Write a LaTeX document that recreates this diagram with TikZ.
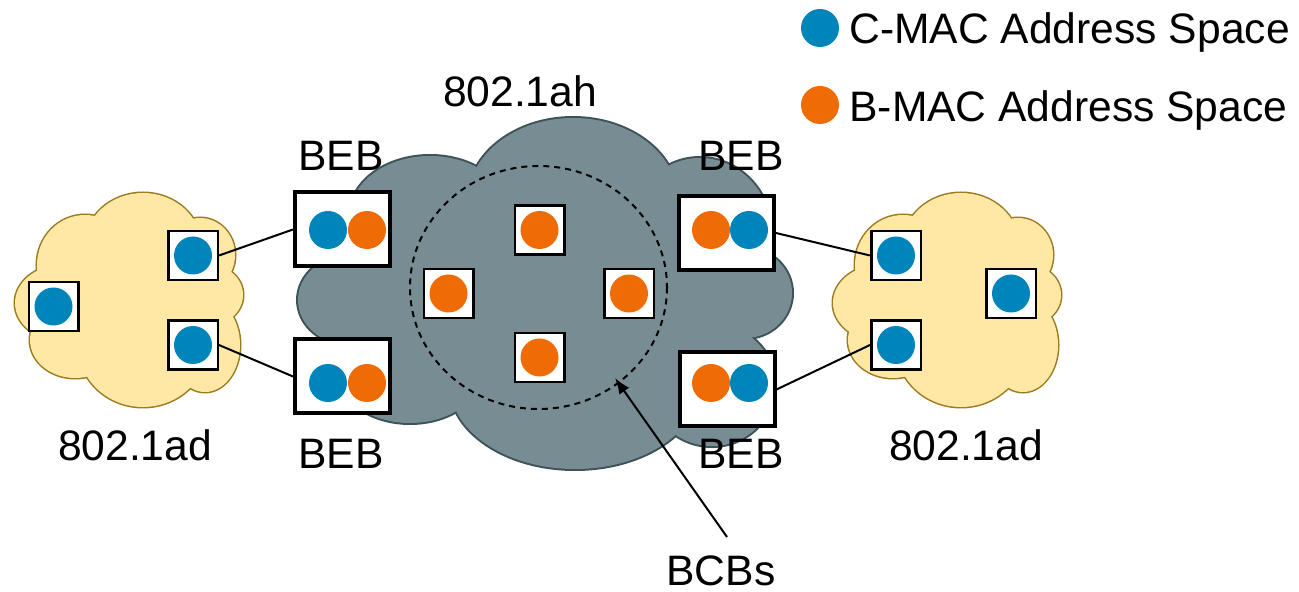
\documentclass[tikz,border=0pt]{standalone}
\usepackage{fontspec}
\setmainfont{Liberation Sans}
\usetikzlibrary{arrows.meta}
\definecolor{cblue}{HTML}{0085BA}
\definecolor{corange}{HTML}{EF6B05}
\definecolor{grayfill}{HTML}{778D93}
\definecolor{grayedge}{HTML}{3E5358}
\definecolor{yelfill}{HTML}{FFE8A6}
\definecolor{yeledge}{HTML}{9C7A1E}
\newcommand\dotat[3]{\fill[#1] (#2,#3) circle [radius=19];}
\begin{document}
\begin{tikzpicture}[x=0.5pt,y=-0.5pt,
  bebbox/.style={draw=black,line width=2pt,fill=white,minimum width=47.5pt,minimum height=37pt,inner sep=0pt},
  smallbox/.style={draw=black,line width=1.25pt,fill=white,minimum width=24.75pt,minimum height=24.5pt,inner sep=0pt},
  lbl/.style={font=\fontsize{21.3}{25}\selectfont,inner sep=0pt,anchor=base},
  link/.style={draw=black,line width=1pt},
  ring/.style={draw=black,line width=1pt,dash pattern=on 3pt off 2.5pt},
  pointer/.style={draw=black,line width=1pt,-{Latex[length=8pt,width=6pt]}}]
\useasboundingbox (0,0) rectangle (1299,592);

% yellow clouds (left and shifted copy on the right)
\foreach \sh in {0,818}{
  \begin{scope}[shift={(\sh,0)}]
    \foreach \a/\b/\c/\d in {143/245/58/52,85/265/48/50,62/303/47/38,75/340/45/38,143/345/65/62,205/345/35/47,210/295/33/30,200/255/35/37,135/300/85/65}
      \draw[yeledge,line width=1.5pt] (\a,\b) ellipse [x radius=\c, y radius=\d];
    \foreach \a/\b/\c/\d in {143/245/58/52,85/265/48/50,62/303/47/38,75/340/45/38,143/345/65/62,205/345/35/47,210/295/33/30,200/255/35/37,135/300/85/65}
      \fill[yelfill] (\a,\b) ellipse [x radius=\c, y radius=\d];
  \end{scope}
}

% gray cloud
\foreach \a/\b/\c/\d in {573/200/105/82,430/215/80/59,700/235/72/77,745/293/47/45,712/385/63/61,575/385/125/84,410/372/72/51,350/300/52/45,545/295/190/115}
  \draw[grayedge,line width=2pt] (\a,\b) ellipse [x radius=\c, y radius=\d];
\foreach \a/\b/\c/\d in {573/200/105/82,430/215/80/59,700/235/72/77,745/293/47/45,712/385/63/61,575/385/125/84,410/372/72/51,350/300/52/45,545/295/190/115}
  \fill[grayfill] (\a,\b) ellipse [x radius=\c, y radius=\d];

% dashed BCB ring
\draw[ring] (538.5,287.5) ellipse [x radius=128.5, y radius=121.5];

% small boxes in left cloud
\node[smallbox] (ca1) at (193,255.5) {};
\node[smallbox] (ca2) at (193,345) {};
\node[smallbox] (ca3) at (53.5,306.5) {};
% small boxes in right cloud
\node[smallbox] (cb1) at (896,255.5) {};
\node[smallbox] (cb2) at (896,345) {};
\node[smallbox] (cb3) at (1011,293.5) {};
% BCB boxes
\node[smallbox] (bcb1) at (539.5,230) {};
\node[smallbox] (bcb2) at (448.5,293.5) {};
\node[smallbox] (bcb3) at (629,293.5) {};
\node[smallbox] (bcb4) at (539.5,357.5) {};

% BEB boxes
\node[bebbox] (bebUL) at (342.5,229.5) {};
\node[bebbox] (bebLL) at (342.5,376.5) {};
\node[bebbox] (bebUR) at (726.5,233) {};
\node[bebbox] (bebLR) at (727,389.5) {};

% connectors
\draw[link] (ca1.east) -- (bebUL.west);
\draw[link] (ca2.east) -- (bebLL.west);
\draw[link] (bebUR.east) -- (cb1.west);
\draw[link] (bebLR.east) -- (cb2.west);

% dots
\dotat{cblue}{193}{255.5}
\dotat{cblue}{193}{345}
\dotat{cblue}{53.5}{306.5}
\dotat{cblue}{896}{255.5}
\dotat{cblue}{896}{345}
\dotat{cblue}{1011}{293.5}
\dotat{corange}{539.5}{230}
\dotat{corange}{448.5}{293.5}
\dotat{corange}{629}{293.5}
\dotat{corange}{539.5}{357.5}
\dotat{cblue}{328}{230}
\dotat{corange}{367}{230}
\dotat{cblue}{328}{383}
\dotat{corange}{367}{383}
\dotat{corange}{711}{230}
\dotat{cblue}{749}{230}
\dotat{corange}{711}{383}
\dotat{cblue}{749}{383}

% arrow to BCBs
\coordinate (atail) at (727,537);
\coordinate (ahead) at (615,378);
\draw[pointer] (atail) -- (ahead);

% labels
\node[lbl] (tBEBul) at (341,171) {BEB};
\node[lbl] (tBEBur) at (741,171) {BEB};
\node[lbl] (tBEBll) at (341,468) {BEB};
\node[lbl] (tBEBlr) at (741,468) {BEB};
\node[lbl] (tadL) at (135,460) {802.1ad};
\node[lbl] (tadR) at (966,460) {802.1ad};
\node[lbl] (tah) at (520,107) {802.1ah};
\node[lbl] (tbcbs) at (721,585) {BCBs};

% legend
\dotat{cblue}{820}{28}
\dotat{corange}{820}{105}
\node[lbl,anchor=base west] (lgC) at (849,44) {C-MAC Address Space};
\node[lbl,anchor=base west] (lgB) at (849,122) {B-MAC Address Space};
\end{tikzpicture}
\end{document}
